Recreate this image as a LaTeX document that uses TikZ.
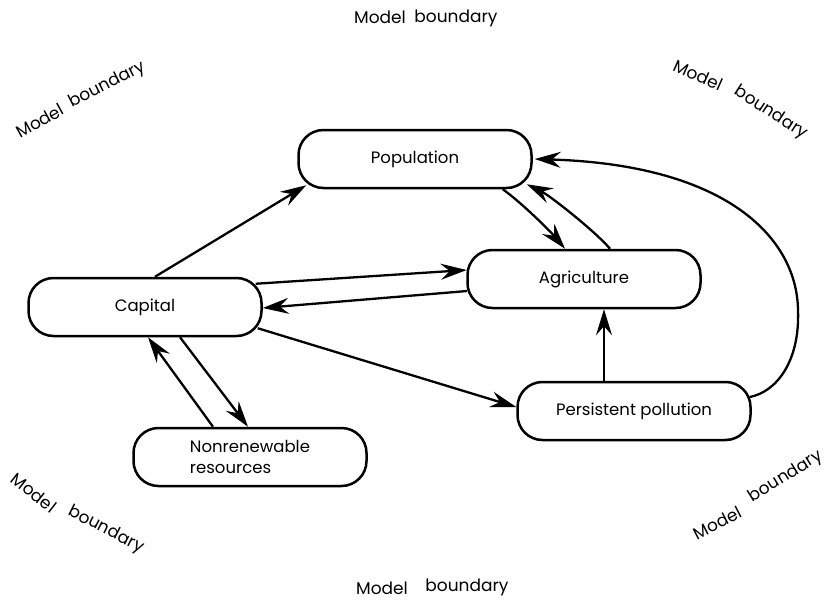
\documentclass[tikz,border=0pt]{standalone}
\usepackage{fontspec}
\setmainfont{Poppins}
\usetikzlibrary{arrows.meta,calc}
\tikzset{
  box/.style={draw, line width=2.5pt, rounded corners=25pt, minimum width=233pt, minimum height=58pt, inner sep=0pt, font=\fontsize{16.5}{21}\selectfont},
  tip/.style={-{Stealth[length=26pt,width=16pt,inset=9pt]}},
  flow/.style={line width=2.3pt, tip},
  bnd/.style={inner sep=0pt, font=\fontsize{17}{20}\selectfont}
}
\begin{document}
\begin{tikzpicture}[x=1pt,y=-1pt]
\useasboundingbox (0,0) rectangle (828,605);
% boxes
\node[box] (pop) at (415,159) {Population};
\node[box] (agr) at (584,279) {Agriculture};
\node[box] (cap) at (145,307) {Capital};
\node[box, align=left] (nre) at (250,457) {Nonrenewable\\resources};
\node[box] (pol) at (634,411) {Persistent pollution};
% connectors
\draw[flow] ($(cap.north)+(10,0)$) -- ($(pop.south west)+(9,-4)$);
\draw[flow] ($(cap.north east)+(-7,7)$) -- ($(agr.west)+(0.5,-9)$);
\draw[flow] ($(agr.west)+(1,12)$) -- ($(cap.east)+(0,1)$);
\draw[flow] ($(cap.south east)+(-5,-9)$) -- ($(pol.west)+(0,-4)$);
\draw[flow] ($(nre.north)+(-37,0)$) -- ($(cap.south)+(3,0)$);
\draw[flow] ($(cap.south)+(35,0)$) -- ($(nre.north)+(-2,0)$);
\draw[flow] ($(pop.south east)+(-30,0)$) .. controls (522,203) and (550,231) .. ($(agr.north)+(-19,0)$);
\draw[flow] ($(agr.north)+(26,0)$) .. controls (595,231) and (549,195) .. ($(pop.south east)+(-6,-5)$);
\draw[line width=1.6pt, tip] ($(pol.north)+(-30,0)$) -- ($(agr.south)+(20,0)$);
\coordinate (loop) at (798,310);
\draw[flow] ($(pol.east)+(-2,-14)$) .. controls (776,392) and (800,362) .. (loop)
  .. controls (797,240) and (730,165) .. ($(pop.east)+(2,0)$);
% model boundary labels
\node[bnd] (t1) at (380,17) {Model};
\node[bnd] (t2) at (456,18) {boundary};
\node[bnd] (b1) at (382,588) {Model};
\node[bnd] (b2) at (467,587) {boundary};
\node[bnd, rotate=29] (tl1) at (40,121) {Model};
\node[bnd, rotate=27] (tl2) at (107,85) {boundary};
\node[bnd, rotate=-24] (tr1) at (698,75) {Model};
\node[bnd, rotate=-33] (tr2) at (771,113) {boundary};
\node[bnd, rotate=-38] (bl1) at (34,493) {Model};
\node[bnd, rotate=-27] (bl2) at (106,530) {boundary};
\node[bnd, rotate=27] (br1) at (717,523) {Model};
\node[bnd, rotate=32] (br2) at (786,477) {boundary};
\end{tikzpicture}
\end{document}
